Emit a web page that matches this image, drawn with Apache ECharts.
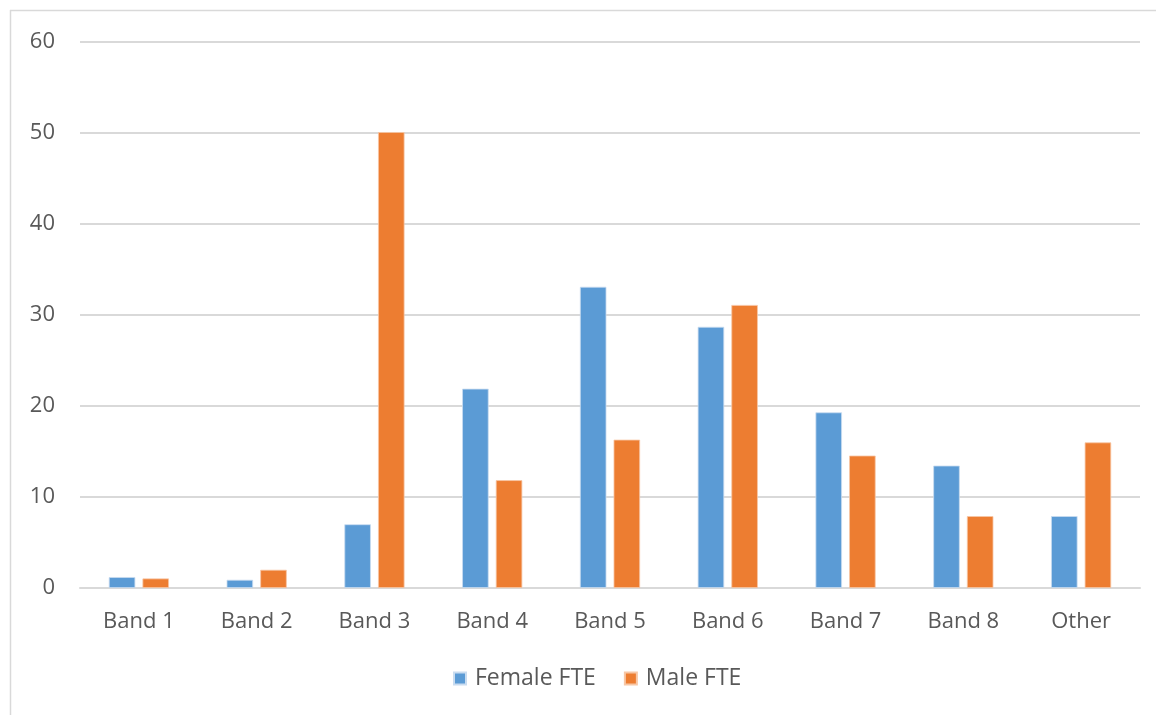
<!DOCTYPE html>
<html>
<head>
<meta charset="utf-8">
<script src="https://cdn.jsdelivr.net/npm/echarts@6/dist/echarts.min.js"></script>
<style>
  html, body { margin: 0; padding: 0; background: #fff; }
  #chart { width: 1156px; height: 715px; }
</style>
</head>
<body>
<div id="chart"></div>
<script>
// FTE headcount by pay band
const categories = ['Band 1', 'Band 2', 'Band 3', 'Band 4', 'Band 5', 'Band 6', 'Band 7', 'Band 8', 'Other'];
const femaleFTE = [1.2, 0.9, 7.0, 21.9, 33.1, 28.7, 19.3, 13.45, 7.9];
const maleFTE = [1.05, 2.0, 50.1, 11.85, 16.3, 31.1, 14.55, 7.9, 16.0];
const yTicks = [0, 10, 20, 30, 40, 50, 60];

const textColor = '#595959';
const gridColor = '#d9d9d9';
const font = "'Open Sans', 'Noto Sans', sans-serif";
const fontSize = 22;

const chart = echarts.init(document.getElementById('chart'), null, { renderer: 'canvas' });
chart.setOption({
  animation: false,
  backgroundColor: '#fff',
  textStyle: { fontFamily: font },
  graphic: [
    // outer frame edges
    { type: 'line', shape: { x1: 10.5, y1: 10, x2: 10.5, y2: 715 }, style: { stroke: gridColor, lineWidth: 1.5 } },
    { type: 'line', shape: { x1: 10, y1: 10.5, x2: 1156, y2: 10.5 }, style: { stroke: gridColor, lineWidth: 1.5 } }
  ],
  legend: {
    bottom: 20,
    left: 448,
    itemWidth: 12,
    itemHeight: 12,
    itemGap: 28,
    icon: 'rect',
    textStyle: { color: textColor, fontSize: 23, fontFamily: font, padding: [0, 0, 0, 4] },
    data: ['Female FTE', 'Male FTE']
  },
  grid: { left: 80, right: 16, top: 42, bottom: 127, containLabel: false },
  xAxis: {
    type: 'category',
    data: categories,
    axisLine: { show: true, lineStyle: { color: gridColor, width: 2 } },
    axisTick: { show: false },
    axisLabel: { color: textColor, fontSize: fontSize, margin: 23, fontFamily: font }
  },
  yAxis: {
    type: 'value',
    min: yTicks[0],
    max: yTicks[yTicks.length - 1],
    interval: 10,
    axisLine: { show: false },
    axisTick: { show: false },
    splitLine: { lineStyle: { color: gridColor, width: 2 } },
    axisLabel: { color: textColor, fontSize: fontSize, margin: 25, fontFamily: font }
  },
  series: [
    {
      name: 'Female FTE',
      type: 'bar',
      data: femaleFTE,
      barWidth: '22.5%',
      barGap: '27%',
      itemStyle: { color: '#5b9bd5', borderColor: '#c9dcf0', borderWidth: 0.8 }
    },
    {
      name: 'Male FTE',
      type: 'bar',
      data: maleFTE,
      barWidth: '22.5%',
      itemStyle: { color: '#ed7d31', borderColor: '#f7c7a6', borderWidth: 0.8 }
    }
  ]
});
</script>
</body>
</html>
